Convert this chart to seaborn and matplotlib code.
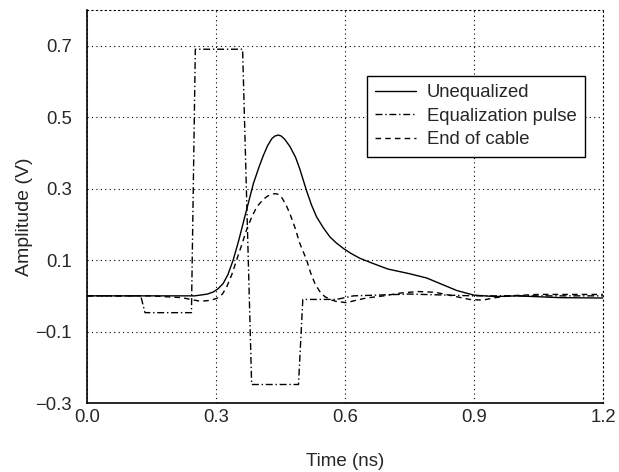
import numpy as np
import pandas as pd
import seaborn as sns
import matplotlib
matplotlib.use("Agg")
from matplotlib import pyplot as plt

# values
unequalized_t = [0.0, 0.20, 0.25, 0.263, 0.28, 0.294, 0.305, 0.317, 0.328, 0.34, 0.353,
                 0.367, 0.387, 0.40, 0.41, 0.42, 0.43, 0.437, 0.445, 0.452, 0.46, 0.472,
                 0.485, 0.495, 0.511, 0.522, 0.534, 0.55, 0.565, 0.58, 0.596, 0.615, 0.635,
                 0.66, 0.70, 0.75, 0.79, 0.82, 0.86, 0.90, 0.95, 1.0, 1.1, 1.2]
unequalized_v = [0.0, 0.0, 0.0, 0.002, 0.005, 0.011, 0.02, 0.035, 0.06, 0.10, 0.155,
                 0.221, 0.314, 0.36, 0.392, 0.420, 0.440, 0.447, 0.450, 0.447, 0.438, 0.418,
                 0.388, 0.355, 0.293, 0.255, 0.221, 0.19, 0.165, 0.148, 0.133, 0.118, 0.105,
                 0.093, 0.075, 0.062, 0.05, 0.035, 0.015, 0.002, -0.002, 0.0, -0.005, -0.006]

pulse_t = [0.0, 0.125, 0.135, 0.243, 0.252, 0.362, 0.383, 0.492, 0.502, 0.58,
           0.62, 0.75, 0.9, 1.2]
pulse_v = [0.0, 0.0, -0.047, -0.047, 0.69, 0.69, -0.248, -0.248, -0.01, -0.01,
           0.0, 0.005, 0.0, 0.0]

cable_t = [0.0, 0.15, 0.22, 0.263, 0.285, 0.302, 0.315, 0.325, 0.337, 0.348, 0.36,
           0.371, 0.383, 0.395, 0.41, 0.42, 0.429, 0.437, 0.445, 0.453, 0.462, 0.472,
           0.484, 0.495, 0.511, 0.52, 0.530, 0.541, 0.553, 0.567, 0.581, 0.604, 0.627,
           0.65, 0.69, 0.73, 0.77, 0.81, 0.85, 0.89, 0.92, 0.95, 0.98, 1.05, 1.2]
cable_v = [0.0, 0.0, -0.005, -0.015, -0.013, -0.007, 0.005, 0.025, 0.06, 0.10, 0.143,
           0.184, 0.22, 0.249, 0.270, 0.279, 0.284, 0.286, 0.284, 0.275, 0.257, 0.230,
           0.19, 0.147, 0.10, 0.065, 0.035, 0.013, -0.002, -0.011, -0.016, -0.019, -0.012,
           -0.006, 0.0, 0.008, 0.012, 0.01, 0.0, -0.01, -0.012, -0.005, 0.0, 0.004, 0.004]

names = ["Unequalized", "Equalization pulse", "End of cable"]
x_ticks = [0.0, 0.3, 0.6, 0.9, 1.2]
y_ticks = [-0.3, -0.1, 0.1, 0.3, 0.5, 0.7]

df = pd.concat([
    pd.DataFrame({"t": unequalized_t, "v": unequalized_v, "series": names[0]}),
    pd.DataFrame({"t": pulse_t, "v": pulse_v, "series": names[1]}),
    pd.DataFrame({"t": cable_t, "v": cable_v, "series": names[2]}),
], ignore_index=True)

sns.set_theme(style="white")
plt.rcParams["font.family"] = ["Liberation Sans", "DejaVu Sans"]
plt.rcParams["font.size"] = 13

fig = plt.figure(figsize=(6.19, 4.72), dpi=100)
ax = fig.add_axes([0.1405, 0.146, 0.8335, 0.833])

sns.lineplot(data=df, x="t", y="v", hue="series", style="series",
             hue_order=names, style_order=names,
             palette=["black"] * 3,
             dashes={names[0]: "", names[1]: (5, 2, 1, 2), names[2]: (4, 3)},
             estimator=None, sort=False, linewidth=1.0, ax=ax)

ax.set_xlim(0, 1.2)
ax.set_ylim(-0.3, 0.8)
ax.set_xticks(x_ticks)
ax.set_yticks(y_ticks)
ax.set_xticklabels([f"{t:.1f}" for t in x_ticks], fontsize=13.3)
ax.set_yticklabels([f"{t:.1f}".replace("-", "\u2212") for t in y_ticks], fontsize=13.3)
ax.tick_params(axis="x", length=0, pad=4)
ax.tick_params(axis="y", length=0, pad=11)
ax.grid(True, linestyle=(0, (1, 3)), color="black", linewidth=0.8)

for side in ["left", "bottom"]:
    ax.spines[side].set_color("black")
    ax.spines[side].set_linewidth(1.2)
for side in ["top", "right"]:
    ax.spines[side].set_color("black")
    ax.spines[side].set_linestyle((0, (1, 3)))
    ax.spines[side].set_linewidth(0.8)

ax.set_xlabel("Time (ns)", fontsize=13.5, labelpad=20)
ax.set_ylabel("Amplitude (V)", fontsize=14)
ax.yaxis.set_label_coords(-0.104, 0.475)

leg = ax.legend(loc="upper right", bbox_to_anchor=(0.965, 0.832), fontsize=13.3,
                frameon=True, fancybox=False, edgecolor="black", framealpha=1,
                handlelength=2.2, handletextpad=0.6, labelspacing=0.35,
                borderpad=0.45, borderaxespad=0)
leg.get_frame().set_linewidth(1.0)

fig.savefig("out.png", dpi=100)
